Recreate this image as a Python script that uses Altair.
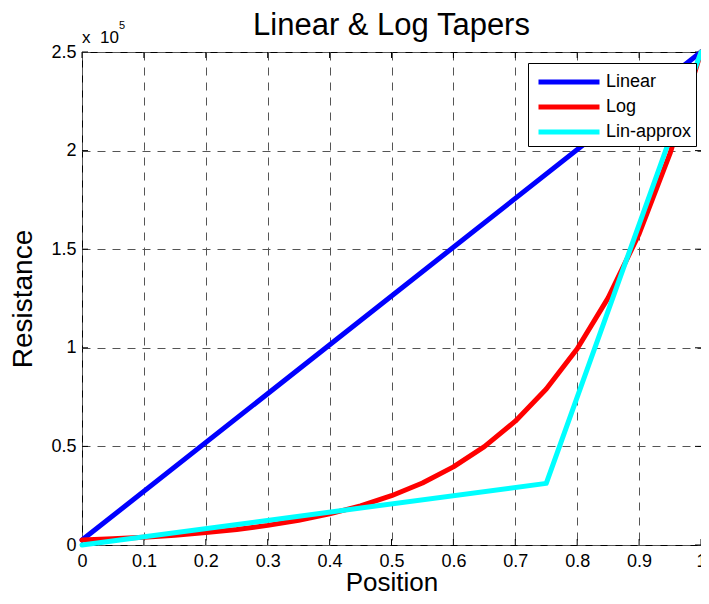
import altair as alt
import pandas as pd

# ---- data ----
series = ["Linear", "Log", "Lin-approx"]
colors = ["#0000ff", "#ff0000", "#00ffff"]

linear_pos = [0.0, 1.0]
linear_r = [2500, 250000]

log_pos = [0.0, 0.05, 0.1, 0.15, 0.2, 0.25, 0.3, 0.35, 0.4, 0.45, 0.5,
           0.55, 0.6, 0.65, 0.7, 0.75, 0.8, 0.85, 0.9, 0.95, 1.0]
log_r = [2500, 3150, 3960, 4990, 6280, 7910, 9950, 12530, 15770, 19860, 25000,
         31470, 39620, 49880, 62800, 79060, 99530, 125300, 157740, 198580, 250000]

approx_pos = [0.0, 0.75, 1.0]
approx_r = [0, 31250, 250000]

x_ticks = [0, 0.1, 0.2, 0.3, 0.4, 0.5, 0.6, 0.7, 0.8, 0.9, 1]
y_ticks = [0, 50000, 100000, 150000, 200000, 250000]

W, H = 619, 493
FONT = "Liberation Sans"

df_lin = pd.DataFrame({"x": linear_pos, "y": linear_r, "series": "Linear"})
df_log = pd.DataFrame({"x": log_pos, "y": log_r, "series": "Log"})
df_apx = pd.DataFrame({"x": approx_pos, "y": approx_r, "series": "Lin-approx"})
df_xt = pd.DataFrame({"x": x_ticks})
df_yt = pd.DataFrame({"y": y_ticks})

xscale = alt.Scale(domain=[0, 1], nice=False, zero=False)
yscale = alt.Scale(domain=[0, 250000], nice=False, zero=False)

xaxis = alt.Axis(values=x_ticks, format="~g", title="Position", grid=True,
                 domain=False, ticks=False, labelFlush=False, labelPadding=7,
                 titleFontSize=26, titleBaseline="alphabetic", titleY=45)
yaxis = alt.Axis(values=y_ticks, labelExpr="format(datum.value / 100000, '~g')",
                 title="Resistance", grid=True, domain=False, ticks=False,
                 labelFlush=False, labelPadding=6, titlePadding=13,
                 titleFontSize=28)

X = alt.X("x:Q", scale=xscale, axis=xaxis)
Y = alt.Y("y:Q", scale=yscale, axis=yaxis)

legend = alt.Legend(
    title=" ", titleFontSize=5, titlePadding=1,
    orient="none", legendX=446, legendY=11,
    fillColor="white", strokeColor="black", padding=4,
    symbolType="M-6.1,0H6.1", symbolSize=100, symbolStrokeWidth=5,
    symbolOffset=28, labelOffset=28, labelFontSize=18, labelFont=FONT,
    labelColor="black", rowPadding=5, labelExpr="datum.label + ' '",
)
color = alt.Color("series:N", scale=alt.Scale(domain=series, range=colors),
                  legend=legend)


def line(df):
    return alt.Chart(df).mark_line(strokeWidth=5, strokeCap="round",
                                   strokeJoin="round").encode(x=X, y=Y, color=color)


tick_style = dict(color="black", strokeWidth=1)
ticks_bottom = alt.Chart(df_xt).mark_rule(**tick_style).encode(
    x=X, y=alt.value(H), y2=alt.value(H - 6))
ticks_top = alt.Chart(df_xt).mark_rule(**tick_style).encode(
    x=X, y=alt.value(0), y2=alt.value(6))
ticks_left = alt.Chart(df_yt).mark_rule(**tick_style).encode(
    y=Y, x=alt.value(0), x2=alt.value(6))
ticks_right = alt.Chart(df_yt).mark_rule(**tick_style).encode(
    y=Y, x=alt.value(W), x2=alt.value(W - 6))

exp_base = alt.Chart(pd.DataFrame({"t": ["x\u00a0 10"]})).mark_text(
    align="left", baseline="alphabetic", fontSize=17, font=FONT, color="black"
).encode(text="t:N", x=alt.value(0), y=alt.value(-9))
exp_sup = alt.Chart(pd.DataFrame({"t": ["5"]})).mark_text(
    align="left", baseline="alphabetic", fontSize=11, font=FONT, color="black"
).encode(text="t:N", x=alt.value(37), y=alt.value(-23))

chart = alt.layer(
    ticks_bottom, ticks_top, ticks_left, ticks_right,
    line(df_lin), line(df_log), line(df_apx),
    exp_base, exp_sup,
).properties(
    width=W, height=H,
    autosize=alt.AutoSizeParams(type="none"),
    padding={"left": 74, "top": 44, "right": 0, "bottom": 46},
    background="white",
    title=alt.TitleParams("Linear & Log Tapers", fontSize=31, font=FONT,
                          fontWeight="normal", color="black", anchor="middle",
                          frame="group", offset=-22),
).configure_view(
    stroke="black", strokeWidth=1
).configure_axis(
    gridColor="#555555", gridDash=[8, 7], gridWidth=1, gridOpacity=1,
    labelFont=FONT, labelFontSize=18, labelColor="black",
    titleFont=FONT, titleFontWeight="normal", titleColor="black",
)

chart.save("out.html", embed_options={"renderer": "svg", "actions": False})
